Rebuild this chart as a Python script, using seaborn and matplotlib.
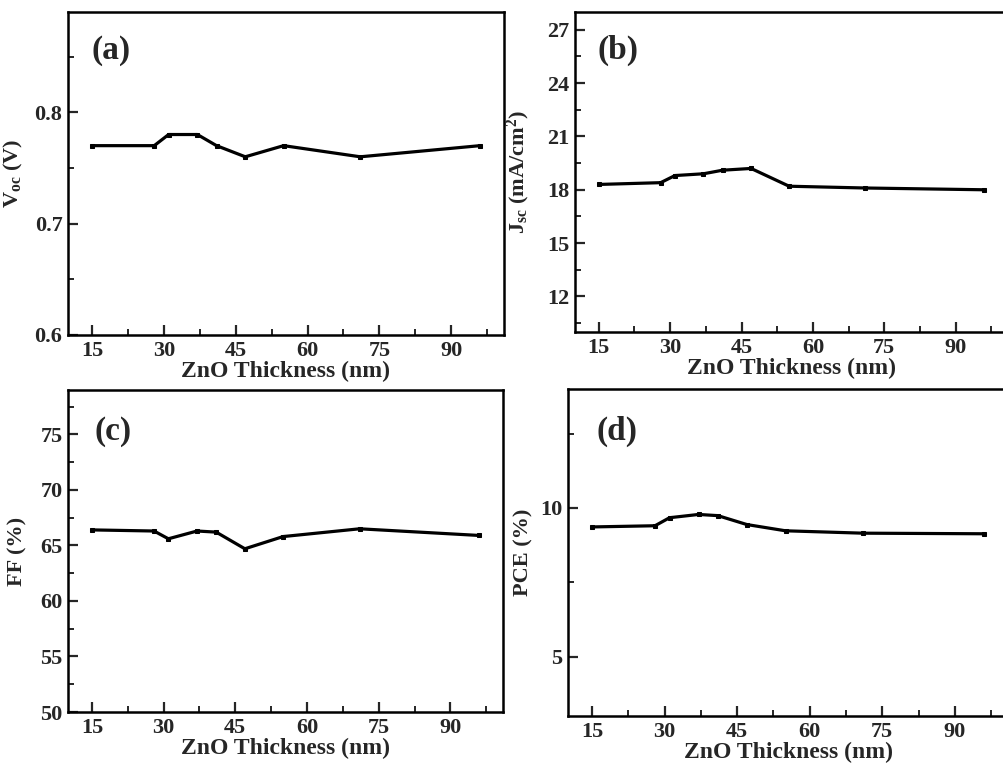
import matplotlib
matplotlib.use("Agg")
import matplotlib.pyplot as plt
import seaborn as sns
import pandas as pd
from matplotlib.ticker import MultipleLocator

thickness = [15, 28, 31, 37, 41, 47, 55, 71, 96]
voc = [0.77, 0.77, 0.78, 0.78, 0.77, 0.76, 0.77, 0.76, 0.77]
jsc = [18.3, 18.4, 18.8, 18.9, 19.1, 19.2, 18.2, 18.1, 18.0]
ff = [66.4, 66.3, 65.6, 66.3, 66.2, 64.7, 65.8, 66.5, 65.9]
pce = [9.36, 9.40, 9.67, 9.78, 9.74, 9.44, 9.23, 9.15, 9.13]

x_ticks = [15, 30, 45, 60, 75, 90]
xlabel = "ZnO Thickness (nm)"

sns.set_theme(style="ticks")
plt.rcParams["font.family"] = ["Liberation Serif", "DejaVu Serif"]
plt.rcParams["font.weight"] = "bold"
plt.rcParams["axes.labelweight"] = "bold"
plt.rcParams["mathtext.fontset"] = "custom"
plt.rcParams["mathtext.rm"] = "Liberation Serif:bold"
plt.rcParams["mathtext.it"] = "Liberation Serif:bold"
plt.rcParams["mathtext.bf"] = "Liberation Serif:bold"

fig = plt.figure(figsize=(10.04, 7.67), dpi=100)

panels = [
    dict(y=voc, label="(a)", ylabel=r"V$_{\mathrm{oc}}$ (V)", ylim=(0.6, 0.89),
         yticks=[0.6, 0.7, 0.8], minor=0.05, fmt="{:.1f}",
         pos=[68/1004, 1-335/767, (504-68)/1004, (335-12)/767], lab=(0.055, 0.882), ylx=25),
    dict(y=jsc, label="(b)", ylabel=r"J$_{\mathrm{sc}}$ (mA/cm$^{2}$)", ylim=(10, 28),
         yticks=[12, 15, 18, 21, 24, 27], minor=1.5, fmt="{:.0f}",
         pos=[575/1004, 1-332/767, (1008-575)/1004, (332-12)/767], lab=(0.051, 0.881), ylx=532),
    dict(y=ff, label="(c)", ylabel="FF (%)", ylim=(50, 79),
         yticks=[50, 55, 60, 65, 70, 75], minor=2.5, fmt="{:.0f}",
         pos=[68/1004, 1-712/767, (503-68)/1004, (712-390)/767], lab=(0.06, 0.87), ylx=27),
    dict(y=pce, label="(d)", ylabel="PCE (%)", ylim=(3, 14),
         yticks=[5, 10], minor=2.5, fmt="{:.0f}",
         pos=[568/1004, 1-716/767, (1008-568)/1004, (716-389)/767], lab=(0.064, 0.87), ylx=533),
]

for p in panels:
    ax = fig.add_axes(p["pos"])
    df = pd.DataFrame({"x": thickness, "y": p["y"]})
    sns.lineplot(data=df, x="x", y="y", ax=ax, color="black", linewidth=2.3,
                 marker="s", markersize=3.5, markeredgecolor="black")
    ax.set_xlim(10, 101)
    ax.set_ylim(*p["ylim"])
    ax.set_xticks(x_ticks)
    ax.set_xticklabels([str(t) for t in x_ticks])
    ax.set_yticks(p["yticks"])
    ax.set_yticklabels([p["fmt"].format(t) for t in p["yticks"]])
    ax.xaxis.set_minor_locator(MultipleLocator(7.5))
    ax.yaxis.set_minor_locator(MultipleLocator(p["minor"]))
    ax.tick_params(which="major", direction="in", length=7, width=1.6, labelsize=16,
                   top=False, right=False, pad=4)
    ax.tick_params(which="minor", direction="in", length=4, width=1.4, top=False, right=False)
    for s in ax.spines.values():
        s.set_linewidth(1.8)
        s.set_color("black")
        s.set_visible(True)
    for lab in ax.get_xticklabels() + ax.get_yticklabels():
        lab.set_fontweight("bold")
    ax.set_xlabel(xlabel, fontsize=17, fontweight="bold", labelpad=0)
    ax.set_ylabel(p["ylabel"], fontsize=16, fontweight="bold")
    bb = ax.get_position()
    ax.yaxis.set_label_coords((p["ylx"]/1004 - bb.x0)/bb.width, 0.5)
    ax.text(p["lab"][0], p["lab"][1], p["label"], transform=ax.transAxes,
            fontsize=24, fontweight="bold", ha="left", va="center")
    ax.set_facecolor("white")

fig.savefig("out.png", dpi=100, facecolor="white")
